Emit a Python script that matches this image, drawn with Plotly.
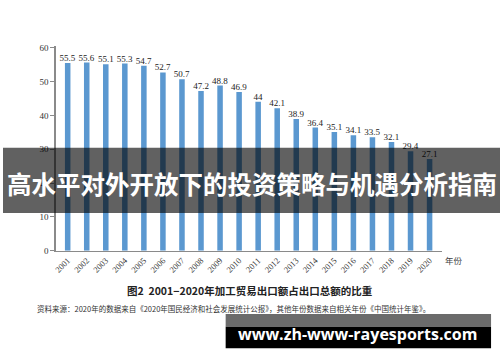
import plotly.graph_objects as go

years = [str(y) for y in range(2001, 2021)]
shares = [55.5, 55.6, 55.1, 55.3, 54.7, 52.7, 50.7, 47.2, 48.8, 46.9,
          44, 42.1, 38.9, 36.4, 35.1, 34.1, 33.5, 32.1, 29.4, 27.1]
labels = ["55.5", "55.6", "55.1", "55.3", "54.7", "52.7", "50.7", "47.2", "48.8", "46.9",
          "44", "42.1", "38.9", "36.4", "35.1", "34.1", "33.5", "32.1", "29.4", "27.1"]
ytick_vals = [0, 10, 20, 30, 40, 50, 60]

title_text = "高水平对外开放下的投资策略与机遇分析指南"
caption = "图2  2001−2020年加工贸易出口额占出口总额的比重"
source = "资料来源：2020年的数据来自《2020年国民经济和社会发展统计公报》，其他年份数据来自相关年份《中国统计年鉴》。"
watermark = "www.zh-www-rayesports.com"
unit_label = "年份"

W, H = 500, 362

def px(x):
    return x / W

def py(y):
    return (H - y) / H

fig = go.Figure()
fig.add_trace(go.Bar(
    x=years, y=shares, width=0.29,
    marker=dict(color="#5b98d0", line=dict(width=0)),
    text=labels, textposition="outside", constraintext="none",
    textfont=dict(family="Liberation Serif", size=9, color="#222"),
    cliponaxis=False,
))

fig.update_layout(
    width=W, height=H, autosize=False,
    margin=dict(l=0, r=0, t=0, b=0),
    paper_bgcolor="white", plot_bgcolor="white",
    showlegend=False,
    xaxis=dict(
        type="category",
        domain=[px(53), px(442)],
        range=[-0.63, 19.67],
        tickangle=-45,
        tickfont=dict(family="Liberation Serif", size=8.5, color="#333"),
        showgrid=False, zeroline=False,
        showline=True, linecolor="#8a8a8a", linewidth=1.5,
        ticks="",
    ),
    yaxis=dict(
        domain=[py(253.3), py(44)],
        range=[0, 60.5],
        tickmode="array", tickvals=ytick_vals,
        tickfont=dict(family="Liberation Serif", size=9, color="#333"),
        showgrid=False, zeroline=False,
        showline=True, linecolor="#8a8a8a", linewidth=1.5,
        ticks="outside", ticklen=4, tickcolor="#8a8a8a", tickwidth=1,
    ),
)

shapes = [
    dict(type="rect", xref="paper", yref="paper", x0=0, x1=1,
         y0=py(214.7), y1=py(148), fillcolor="rgba(0,0,0,0.62)",
         line=dict(width=0), layer="above"),
    dict(type="rect", xref="paper", yref="paper", x0=px(224), x1=px(491),
         y0=py(331), y1=py(318), fillcolor="#6b6b6b",
         line=dict(width=0), layer="above"),
    dict(type="rect", xref="paper", yref="paper", x0=px(224), x1=px(491),
         y0=py(353), y1=py(331), fillcolor="#000000",
         line=dict(width=0), layer="above"),
]
fig.update_layout(shapes=shapes)

annotations = [
    dict(text=title_text, xref="paper", yref="paper", x=0.5, y=py(185),
         xanchor="center", yanchor="middle", showarrow=False,
         font=dict(family="Noto Sans CJK SC", size=24.5, color="white", weight="bold")),
    dict(text=unit_label, xref="paper", yref="paper", x=px(443), y=py(263),
         xanchor="left", yanchor="middle", showarrow=False,
         font=dict(family="Noto Sans CJK SC", size=8.5, color="#444")),
    dict(text="<b>" + caption + "</b>", xref="paper", yref="paper", x=px(248), y=py(294),
         xanchor="center", yanchor="middle", showarrow=False,
         font=dict(family="Noto Sans CJK SC", size=10.5, color="#222")),
    dict(text=source, xref="paper", yref="paper", x=px(32), y=py(312),
         xanchor="left", yanchor="middle", showarrow=False,
         font=dict(family="Noto Sans CJK SC", size=7.5, color="#333")),
    dict(text="<b>" + watermark + "</b>", xref="paper", yref="paper", x=px(357), y=py(338),
         xanchor="center", yanchor="middle", showarrow=False,
         font=dict(family="Open Sans", size=16, color="white")),
]
fig.update_layout(annotations=annotations)

fig.write_html("out.html",
               config={"displayModeBar": False, "staticPlot": True},
               post_script="document.body.style.margin='0';document.body.style.overflow='hidden';")
